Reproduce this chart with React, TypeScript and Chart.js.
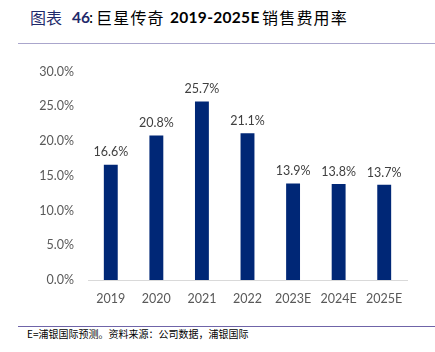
import React, { useEffect, useRef } from "react";
import { Chart, registerables } from "chart.js";

Chart.register(...registerables);

const categories = ["2019", "2020", "2021", "2022", "2023E", "2024E", "2025E"];
const sellingExpenseRatio = [16.6, 20.8, 25.7, 21.1, 13.9, 13.8, 13.7];
const yTicks = [0, 5, 10, 15, 20, 25, 30];

const footnote = "E=浦银国际预测。资料来源：公司数据，浦银国际";

const FONT = "Lato, 'Noto Sans', sans-serif";

const dataLabelPlugin = {
  id: "dataLabels",
  afterDatasetsDraw(chart: any) {
    const ctx = chart.ctx;
    const meta = chart.getDatasetMeta(0);
    ctx.save();
    ctx.font = `12.5px ${FONT}`;
    ctx.fillStyle = "#404040";
    ctx.textAlign = "center";
    ctx.textBaseline = "bottom";
    meta.data.forEach((bar: any, i: number) => {
      const v = chart.data.datasets[0].data[i] as number;
      ctx.fillText(v.toFixed(1) + "%", bar.x, bar.y - 6);
    });
    ctx.restore();
  },
};

export default function App() {
  const ref = useRef<HTMLCanvasElement | null>(null);
  useEffect(() => {
    if (!ref.current) return;
    const chart = new Chart(ref.current, {
      type: "bar",
      data: {
        labels: categories,
        datasets: [
          {
            data: sellingExpenseRatio,
            backgroundColor: "#002776",
            borderWidth: 0,
            categoryPercentage: 0.61,
            barPercentage: 0.5,
          },
        ],
      },
      options: {
        animation: false,
        responsive: false,
        maintainAspectRatio: false,
        layout: { padding: { top: 21, right: 28, bottom: 0, left: 0 } },
        plugins: { legend: { display: false }, tooltip: { enabled: false } },
        scales: {
          x: {
            grid: { display: false, drawTicks: false },
            border: { display: true, color: "#d9d9d9", width: 1 },
            ticks: {
              color: "#595959",
              font: { family: FONT, size: 12.5 },
              padding: 11,
              maxRotation: 0,
              autoSkip: false,
            },
            afterFit(scale: any) {
              scale.height = 30;
            },
          },
          y: {
            min: 0,
            max: 30,
            afterBuildTicks(scale: any) {
              scale.ticks = yTicks.map((v) => ({ value: v }));
            },
            grid: { display: false, drawTicks: false },
            border: { display: false },
            ticks: {
              color: "#595959",
              font: { family: FONT, size: 12.5 },
              padding: 14,
              callback: (v: any) => Number(v).toFixed(1) + "%",
            },
            afterFit(scale: any) {
              scale.width = 88;
            },
          },
        },
      },
      plugins: [dataLabelPlugin],
    });
    return () => chart.destroy();
  }, []);

  const cjk = "'Noto Sans CJK SC', sans-serif";
  const latin = "Lato, 'Noto Sans', sans-serif";

  const piece = (left: number, extra: React.CSSProperties): React.CSSProperties => ({
    position: "absolute",
    left,
    top: 6,
    whiteSpace: "nowrap",
    lineHeight: "22px",
    color: "#000",
    ...extra,
  });

  return (
    <div
      style={{
        position: "fixed",
        left: 0,
        top: 0,
        width: 435,
        height: 352,
        background: "#fff",
        overflow: "hidden",
      }}
    >
      <span style={piece(30, { fontFamily: cjk, fontSize: 16, color: "#1f2a6b" })}>图表</span>
      <span style={piece(72, { fontFamily: latin, fontSize: 15.5, fontWeight: 700, color: "#1f2a6b" })}>46</span>
      <span style={piece(89, { fontFamily: cjk, fontSize: 15 })}>:</span>
      <span style={piece(96, { fontFamily: cjk, fontSize: 16, letterSpacing: "1.2px" })}>巨星传奇</span>
      <span style={piece(170, { fontFamily: latin, fontSize: 15.5, fontWeight: 700, letterSpacing: "0.3px" })}>2019-2025E</span>
      <span style={piece(262, { fontFamily: cjk, fontSize: 16, letterSpacing: "1.2px" })}>销售费用率</span>
      <div
        style={{
          position: "absolute",
          left: 18,
          top: 43,
          width: 417,
          height: 1,
          background: "#aaa6cc",
        }}
      />
      <canvas
        ref={ref}
        width={435}
        height={260}
        style={{ position: "absolute", left: 0, top: 50, width: 435, height: 260 }}
      />
      <div
        style={{
          position: "absolute",
          left: 18,
          top: 326,
          width: 417,
          height: 1,
          background: "#6f64a8",
        }}
      />
      <div
        style={{
          position: "absolute",
          left: 27,
          top: 327,
          whiteSpace: "nowrap",
          fontFamily: cjk,
          fontSize: 10,
          lineHeight: "14px",
          color: "#000",
        }}
      >
        {footnote}
      </div>
    </div>
  );
}
